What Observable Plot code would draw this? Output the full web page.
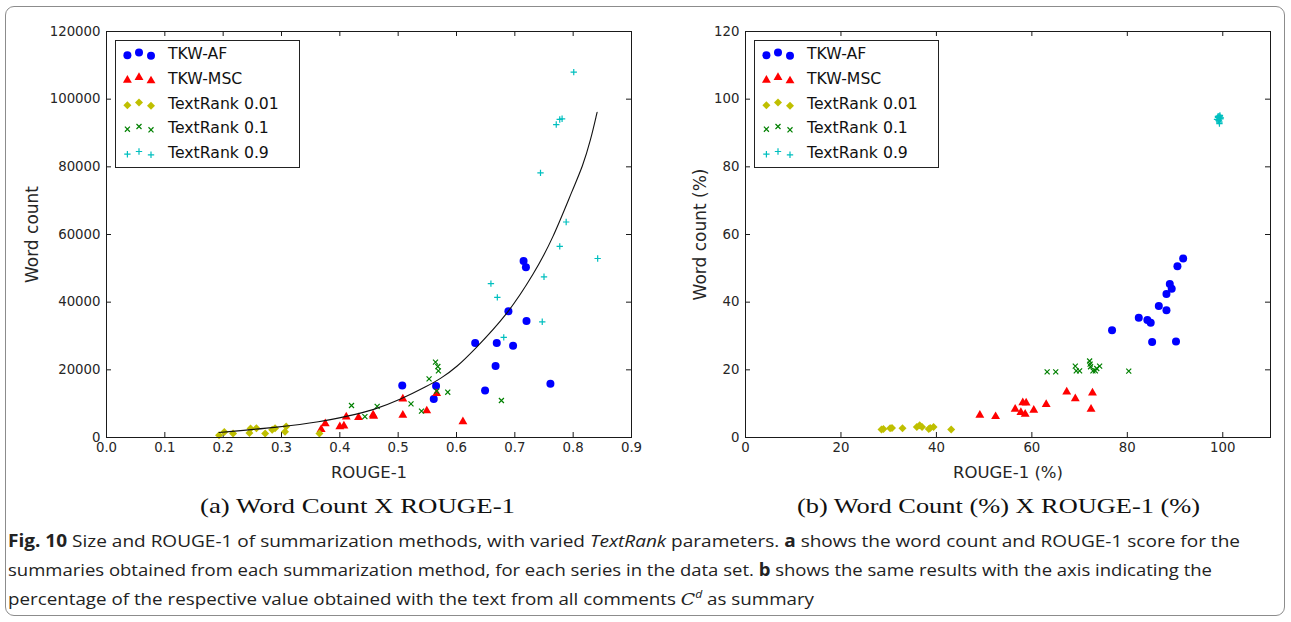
<!DOCTYPE html>
<html><head><meta charset="utf-8">
<script src="https://cdn.jsdelivr.net/npm/d3@7"></script>
<script src="https://cdn.jsdelivr.net/npm/@observablehq/plot@0.6"></script>
<style>
body{margin:0;background:#fff;}
#fig{position:relative;width:1291px;height:622px;overflow:hidden;background:#fff;}
.abs{position:absolute;}
.border{left:4.5px;top:6px;width:1280px;height:610px;border:1px solid #8c8c8c;border-radius:9px;box-sizing:border-box;}
.legend{border:1px solid #222;background:#fff;font-family:"DejaVu Sans";font-size:15.7px;color:#111;box-sizing:border-box;}
.sub{font-family:"Liberation Serif";font-size:22px;line-height:24px;color:#111;white-space:nowrap;transform-origin:0 50%;}
.cap{font-family:"Open Sans";font-size:17px;line-height:20px;color:#222;white-space:nowrap;transform-origin:0 50%;}
.cap sup{line-height:0;font-size:11px;font-style:italic;vertical-align:super;}
</style></head>
<body><div id="fig"><div class="abs border"></div></div>
<script>
// ---------- Panel (a): Word count vs ROUGE-1 ----------
const seriesNames = ["TKW-AF", "TKW-MSC", "TextRank 0.01", "TextRank 0.1", "TextRank 0.9"];

const aAfX = [0.507,0.565,0.561,0.632,0.667,0.669,0.649,0.689,0.697,0.715,0.719,0.720,0.761];
const aAfY = [15400,15200,11400,27900,21100,27900,13900,37300,27100,52200,50300,34400,15900];
const aMscX = [0.368,0.375,0.400,0.407,0.411,0.432,0.457,0.458,0.508,0.508,0.549,0.566,0.611];
const aMscY = [2400,4100,3200,3400,6100,5900,6700,6300,11400,6600,7900,13000,4700];
const aTr001X = [0.193,0.202,0.217,0.245,0.247,0.257,0.272,0.284,0.289,0.306,0.308,0.365];
const aTr001Y = [700,1600,1200,1300,2650,2750,1200,2300,2700,1700,3250,1200];
const aTr01X = [0.420,0.443,0.464,0.522,0.540,0.553,0.564,0.568,0.569,0.566,0.585,0.677];
const aTr01Y = [9460,6150,9200,9940,7780,17330,22260,20970,19690,13700,13390,10940];
const aTr09X = [0.801,0.771,0.777,0.781,0.744,0.788,0.777,0.842,0.750,0.659,0.670,0.747,0.681];
const aTr09Y = [108000,92500,94000,94200,78200,63700,56500,52900,47500,45500,41400,34200,29600];
const aFitX = [0.193,0.298,0.367,0.413,0.458,0.504,0.550,0.573,0.601,0.630,0.687,0.733,0.764,0.801,0.816,0.830,0.841];
const aFitY = [1480,3100,4600,6300,8100,11200,15200,17400,20900,25800,36200,48500,58300,74100,80000,87900,96100];
const aXTicks = [0,0.1,0.2,0.3,0.4,0.5,0.6,0.7,0.8,0.9];
const aYTicks = [0,20000,40000,60000,80000,100000,120000];

// ---------- Panel (b): Word count (%) vs ROUGE-1 (%) ----------
const bAfX = [76.8,82.4,84.2,84.9,85.2,86.6,88.2,88.2,88.9,89.3,90.2,90.5,91.7];
const bAfY = [31.7,35.4,34.7,33.9,28.2,38.9,42.4,37.6,45.4,44.0,28.4,50.6,52.9];
const bMscX = [49.1,52.4,56.5,57.7,58.1,58.6,58.8,60.4,63.0,67.3,69.1,72.4,72.7];
const bMscY = [6.6,6.2,8.4,7.4,10.3,6.9,10.2,8.1,9.8,13.5,11.5,8.4,13.2];
const bTr001X = [28.5,28.9,30.3,30.7,32.9,35.9,36.5,37.0,38.4,38.7,39.4,43.1];
const bTr001Y = [2.4,2.5,2.7,2.8,2.7,3.1,3.6,3.1,2.5,2.8,3.1,2.4];
const bTr01X = [63.2,65.0,69.1,69.3,70.0,72.1,72.2,72.3,72.8,73.3,73.6,74.2,80.3];
const bTr01Y = [19.4,19.4,21.1,19.7,19.7,22.6,21.7,20.9,19.7,19.7,20.4,21.1,19.6];
const bTr09X = [98.8,99.0,99.1,99.2,99.3,99.3,99.4,99.4,99.5,99.2,99.0,99.6,99.3];
const bTr09Y = [94.0,94.6,93.8,95.0,94.4,93.2,94.8,95.2,94.2,93.6,94.9,94.5,92.8];
const bXTicks = [0,20,40,60,80,100];
const bYTicks = [0,20,40,60,80,100,120];

// ---------- styles ----------
const seriesStyle = [
  {symbol: "circle", color: "#0000ff", r: 4, filled: true},
  {symbol: "triangle", color: "#ff0000", r: 3.3, filled: true},
  {symbol: "diamond2", color: "#bfbf00", r: 3.6, filled: true},
  {symbol: "times", color: "#008000", r: 2.4, filled: false},
  {symbol: "plus", color: "#00bfbf", r: 2.2, filled: false}
];
const d3Sym = {circle: d3.symbolCircle, triangle: d3.symbolTriangle, diamond2: d3.symbolDiamond2, times: d3.symbolTimes, plus: d3.symbolPlus};

const zip = (xs, ys) => xs.map((x, i) => ({x, y: ys[i]}));

function dotMark(data, st) {
  return st.filled
    ? Plot.dot(data, {x: "x", y: "y", symbol: () => st.symbol, r: st.r, fill: st.color, stroke: "none"})
    : Plot.dot(data, {x: "x", y: "y", symbol: () => st.symbol, r: st.r, stroke: st.color, strokeWidth: 1.2, fill: "none"});
}

function panel(o) {
  const pw = o.width - o.ml - o.mr, ph = o.height - o.mt - o.mb;
  const ink = "#1a1a1a";
  const marks = [
    Plot.tickX(o.xTicks, {x: d => d, insetTop: ph - 5, stroke: ink}),
    Plot.tickX(o.xTicks, {x: d => d, insetBottom: ph - 5, stroke: ink}),
    Plot.tickY(o.yTicks, {y: d => d, insetRight: pw - 5, stroke: ink}),
    Plot.tickY(o.yTicks, {y: d => d, insetLeft: pw - 5, stroke: ink}),
    Plot.axisX(o.xTicks, {tickSize: 0, tickPadding: 5, tickFormat: o.xFmt, fontSize: 13.3, label: null}),
    Plot.axisY(o.yTicks, {tickSize: 0, tickPadding: 6, tickFormat: o.yFmt, fontSize: 13.3, label: null}),
    Plot.axisX([], {label: o.xLabel, labelAnchor: "center", labelArrow: "none", labelOffset: 40, fontSize: 16.5}),
    Plot.axisY([], {label: o.yLabel, labelAnchor: "center", labelArrow: "none", labelOffset: o.yLabelOffset, fontSize: 17})
  ];
  o.series.forEach((s, i) => marks.push(dotMark(s, seriesStyle[i])));
  if (o.fit) marks.push(Plot.line(o.fit, {x: "x", y: "y", stroke: "#111", strokeWidth: 1.1, curve: "basis"}));
  marks.push(Plot.frame({stroke: ink}));
  return Plot.plot({
    width: o.width, height: o.height,
    marginLeft: o.ml, marginRight: o.mr, marginTop: o.mt, marginBottom: o.mb,
    style: {background: "transparent", fontFamily: "DejaVu Sans", color: "#262626", overflow: "visible"},
    x: {domain: o.xDomain}, y: {domain: o.yDomain},
    marks
  });
}

const fig = document.getElementById("fig");

function place(el, left, top) {
  const w = document.createElement("div");
  w.className = "abs";
  w.style.left = left + "px"; w.style.top = top + "px";
  w.appendChild(el);
  fig.appendChild(w);
  return w;
}

const plotA = panel({
  width: 650, height: 490, ml: 106, mr: 19, mt: 31, mb: 53,
  xDomain: [0, 0.9], yDomain: [0, 120000], xTicks: aXTicks, yTicks: aYTicks,
  xFmt: d3.format(".1f"), yFmt: d3.format("d"),
  xLabel: "ROUGE-1", yLabel: "Word count", yLabelOffset: 81,
  series: [zip(aAfX, aAfY), zip(aMscX, aMscY), zip(aTr001X, aTr001Y), zip(aTr01X, aTr01Y), zip(aTr09X, aTr09Y)],
  fit: zip(aFitX, aFitY)
});
place(plotA, 0, 0);

const plotB = panel({
  width: 650, height: 490, ml: 105, mr: 20, mt: 31, mb: 53,
  xDomain: [0, 110], yDomain: [0, 120], xTicks: bXTicks, yTicks: bYTicks,
  xFmt: d3.format("d"), yFmt: d3.format("d"),
  xLabel: "ROUGE-1 (%)", yLabel: "Word count (%)", yLabelOffset: 52,
  series: [zip(bAfX, bAfY), zip(bMscX, bMscY), zip(bTr001X, bTr001Y), zip(bTr01X, bTr01Y), zip(bTr09X, bTr09Y)],
  fit: null
});
place(plotB, 640, 0);

// ---------- legends ----------
function legend(left, top) {
  const box = document.createElement("div");
  box.className = "abs legend";
  box.style.left = left + "px"; box.style.top = top + "px";
  box.style.width = "185px"; box.style.height = "128px";
  const offs = [1.2, -1.5, 1.8];
  seriesNames.forEach((name, i) => {
    const st = seriesStyle[i];
    const cy = 13.3 + i * 24.7;
    const svg = d3.create("svg").attr("width", 48).attr("height", 20)
      .style("position", "absolute").style("left", "0px").style("top", (cy - 10) + "px");
    [11.4, 23, 35].forEach((cx, j) => {
      svg.append("path")
        .attr("d", d3.symbol(d3Sym[st.symbol], Math.PI * st.r * st.r)())
        .attr("transform", `translate(${cx},${10 + offs[j]})`)
        .attr("fill", st.filled ? st.color : "none")
        .attr("stroke", st.filled ? "none" : st.color)
        .attr("stroke-width", 1.2);
    });
    box.appendChild(svg.node());
    const t = document.createElement("div");
    t.className = "abs"; t.textContent = name;
    t.style.left = "52px"; t.style.top = (cy - 10) + "px"; t.style.lineHeight = "20px";
    box.appendChild(t);
  });
  fig.appendChild(box);
}
legend(115, 40);
legend(754, 40);

// ---------- sub-captions ----------
function sub(html, left, width, cy) {
  const d = document.createElement("div");
  d.className = "abs sub"; d.innerHTML = html;
  fig.appendChild(d);
  const w = d.getBoundingClientRect().width;
  d.style.left = left + "px"; d.style.top = (cy - 12) + "px";
  d.style.transform = `scaleX(${width / w})`;
}
sub("(a) Word Count X ROUGE-1", 200, 315, 506);
sub("(b) Word Count (%) X ROUGE-1 (%)", 797, 403, 506);

// ---------- caption ----------
const capLines = [
  {html: "<b>Fig. 10</b> Size and ROUGE-1 of summarization methods, with varied <i>TextRank</i> parameters. <b>a</b> shows the word count and ROUGE-1 score for the", y: 541, w: 1232},
  {html: "summaries obtained from each summarization method, for each series in the data set. <b>b</b> shows the same results with the axis indicating the", y: 570, w: 1204},
  {html: "percentage of the respective value obtained with the text from all comments <i style=\"font-family:'DejaVu Serif'\">C</i><sup>d</sup> as summary", y: 599, w: 806}
];
capLines.forEach(c => {
  const d = document.createElement("div");
  d.className = "abs cap"; d.innerHTML = c.html;
  d.style.left = "8px"; d.style.top = (c.y - 10) + "px";
  fig.appendChild(d);
  const w = d.getBoundingClientRect().width;
  d.style.transform = `scaleX(${c.w / w})`;
});
</script></body></html>
